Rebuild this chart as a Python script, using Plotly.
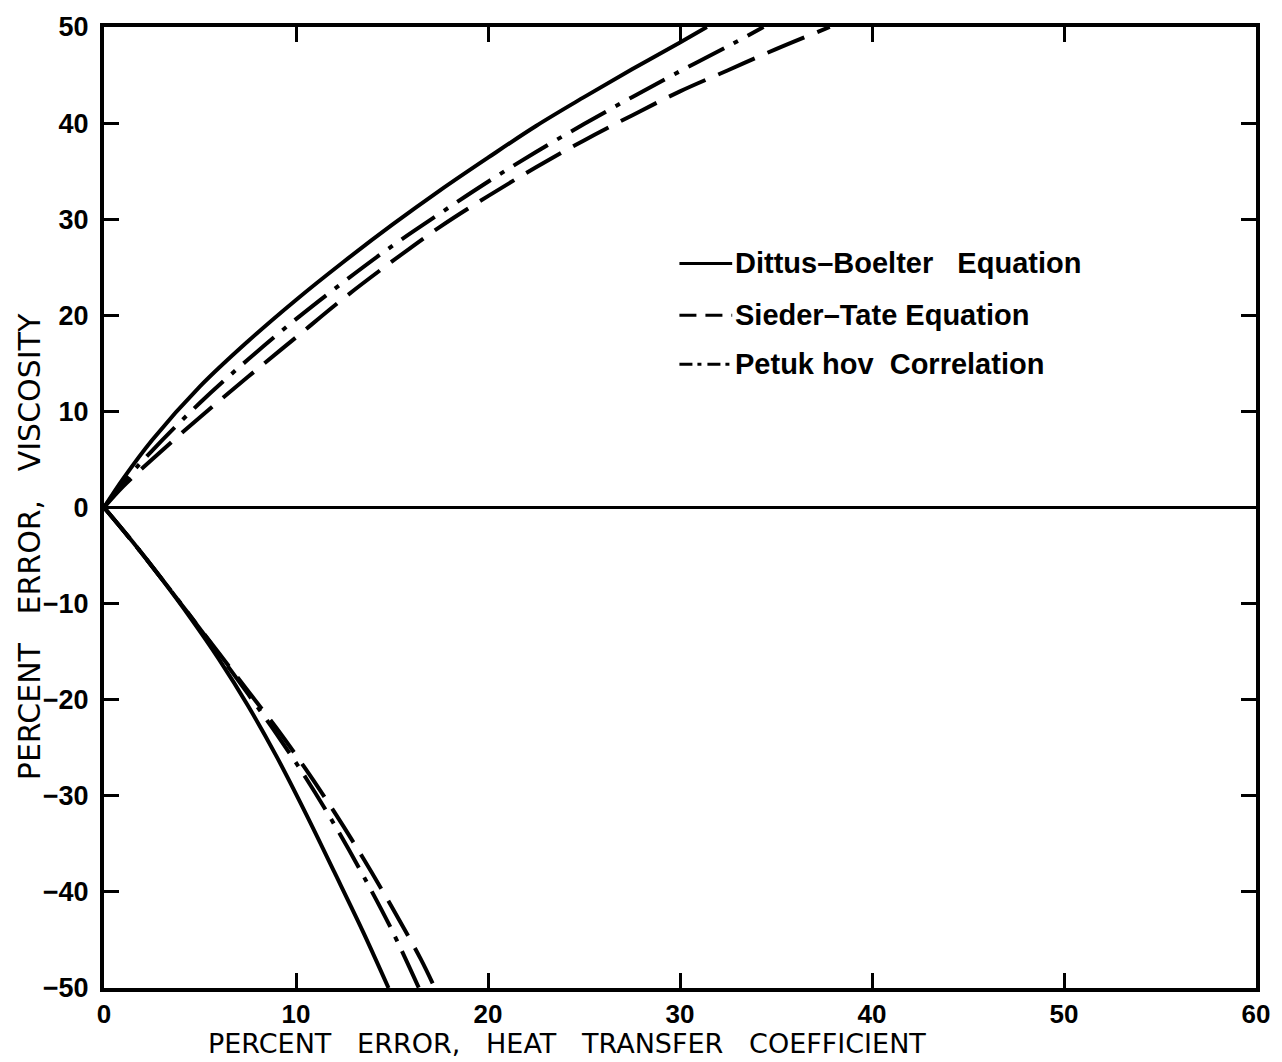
import plotly.graph_objects as go

# Percent error in heat transfer coefficient (x) vs percent error in viscosity (y).
# Each correlation has a negative-viscosity-error branch and a positive one,
# both starting at the origin.

# Dittus-Boelter equation
db_low_x = [0.0, 1.5, 3.0, 4.5, 6.0, 7.5, 9.0, 10.5, 12.0, 13.5, 14.82]
db_low_y = [0.0, -3.6, -7.43, -11.48, -15.83, -20.63, -25.95, -31.8, -37.95, -44.18, -50.0]
db_up_x = [0.0, 1.0, 2.5, 5.0, 7.5, 10.0, 12.5, 15.0, 17.5, 20.0, 22.5, 25.0, 27.5, 30.0, 31.4]
db_up_y = [0.0, 3.0, 7.0, 12.6, 17.3, 21.6, 25.6, 29.4, 33.0, 36.4, 39.7, 42.7, 45.6, 48.4, 50.0]

# Sieder-Tate equation
st_low_x = [0.0, 1.5, 3.0, 4.5, 6.0, 7.5, 9.0, 10.5, 12.0, 13.5, 15.0, 16.5, 17.23]
st_low_y = [0.0, -3.6, -7.4, -11.3, -15.2, -19.1, -23.0, -27.2, -31.7, -36.5, -41.6, -47.0, -50.0]
st_up_x = [0.0, 1.0, 2.5, 5.0, 7.5, 10.0, 12.5, 15.0, 17.5, 20.0, 22.5, 25.0, 27.5, 30.0,
           32.5, 35.0, 37.8]
st_up_y = [0.0, 2.2, 5.0, 9.4, 13.6, 17.7, 21.8, 25.6, 29.2, 32.4, 35.4, 38.2, 40.8, 43.3,
           45.5, 47.7, 50.0]

# Petukhov correlation
pk_low_x = [0.0, 1.5, 3.0, 4.5, 6.0, 7.5, 9.0, 10.5, 12.0, 13.5, 15.0, 16.4]
pk_low_y = [0.0, -3.6, -7.4, -11.3, -15.3, -19.4, -23.6, -28.1, -33.0, -38.3, -44.0, -50.0]
pk_up_x = [0.0, 1.0, 2.5, 5.0, 7.5, 10.0, 12.5, 15.0, 17.5, 20.0, 22.5, 25.0, 27.5, 30.0,
           32.5, 34.35]
pk_up_y = [0.0, 2.6, 5.9, 10.9, 15.4, 19.6, 23.5, 27.2, 30.6, 33.9, 37.0, 39.9, 42.7, 45.4,
           48.0, 50.0]

x_ticks = [0, 10, 20, 30, 40, 50, 60]
y_ticks = [-50, -40, -30, -20, -10, 0, 10, 20, 30, 40, 50]

legend_labels = ["Dittus\u2013Boelter&nbsp;&nbsp; Equation", "Sieder\u2013Tate&nbsp;Equation",
                 "Petuk&nbsp;hov&nbsp; Correlation"]

curve_dash = ["solid", "40px,14px", "40px,11px,5px,11px"]
sample_dash = ["solid", "17px,9px", "13px,5px,4px,6px"]

series = [
    ((db_low_x, db_low_y), (db_up_x, db_up_y)),
    ((st_low_x, st_low_y), (st_up_x, st_up_y)),
    ((pk_low_x, pk_low_y), (pk_up_x, pk_up_y)),
]

fig = go.Figure()
for branches, name, dash in zip(series, legend_labels, curve_dash):
    for xs, ys in branches:
        fig.add_trace(go.Scatter(x=xs, y=ys, mode="lines", name=name, showlegend=False,
                                 line=dict(color="black", width=4, dash=dash,
                                           shape="spline", smoothing=1.0)))

tickfont = dict(family="Liberation Sans", size=27, color="black", weight="bold")
xtickfont = dict(family="Liberation Sans", size=26, color="black", weight="bold")

fig.update_layout(
    width=1282, height=1062,
    margin=dict(l=104, r=20, t=22, b=74),
    paper_bgcolor="white", plot_bgcolor="white",
    showlegend=False,
    xaxis=dict(range=[0, 60], tickvals=x_ticks, ticktext=[str(v) for v in x_ticks],
               ticks="inside", ticklen=15, tickwidth=3, tickcolor="black",
               showline=True, linewidth=4, linecolor="black", mirror="ticks",
               showgrid=False, zeroline=False, tickfont=xtickfont, ticklabelstandoff=0),
    yaxis=dict(range=[-50, 50], tickvals=y_ticks,
               ticktext=[str(v).replace("-", "\u2212") for v in y_ticks],
               ticks="inside", ticklen=15, tickwidth=3, tickcolor="black",
               showline=True, linewidth=4, linecolor="black", mirror="ticks",
               showgrid=False, zeroline=True, zerolinecolor="black", zerolinewidth=3,
               tickfont=tickfont, ticklabelstandoff=6),
)

# Key: short line samples with labels, placed inside the plot area
row_y = [0.754, 0.700, 0.649]
for label, dash, ry in zip(legend_labels, sample_dash, row_y):
    fig.add_shape(type="line", xref="paper", yref="paper",
                  x0=0.4995, x1=0.5453, y0=ry, y1=ry,
                  line=dict(color="black", width=3, dash=dash))
    fig.add_annotation(text=label, xref="paper", yref="paper", x=0.546, y=ry,
                       xanchor="left", yanchor="middle", showarrow=False,
                       font=dict(family="Liberation Sans", size=29, color="black", weight="bold"))

gap = "&nbsp;" * 3
fig.add_annotation(text=gap.join(["PERCENT", "ERROR,", "HEAT", "TRANSFER", "COEFFICIENT"]),
                   xref="paper", yref="paper", x=0.402, y=-0.058, xanchor="center", yanchor="middle",
                   showarrow=False,
                   font=dict(family="DejaVu Sans", size=27, color="black"))
fig.add_annotation(text="PERCENT&nbsp;&nbsp; ERROR,&nbsp;&nbsp; VISCOSITY",
                   xref="paper", yref="paper", x=-0.064, y=0.459, xanchor="center", yanchor="middle",
                   textangle=-90, showarrow=False,
                   font=dict(family="DejaVu Sans", size=30, color="black"))

fig.write_html("out.html")
